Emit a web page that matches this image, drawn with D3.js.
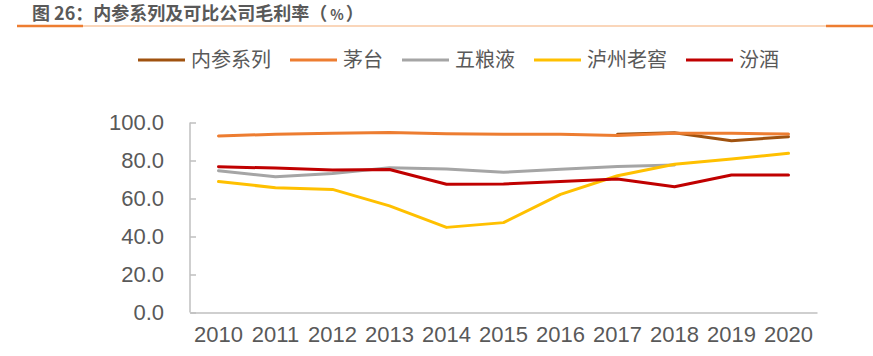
<!DOCTYPE html>
<html><head><meta charset="utf-8">
<script src="https://cdn.jsdelivr.net/npm/d3@7"></script>
<style>body{margin:0;background:#fff;}svg{display:block;}</style>
</head><body>
<svg id="c" width="873" height="356"></svg>
<script>
const years = ["2010","2011","2012","2013","2014","2015","2016","2017","2018","2019","2020"];
const neican  = [null,null,null,null,null,null,null,93.8,94.6,90.4,92.5];
const maotai  = [92.9,93.8,94.3,94.8,94.1,93.8,93.8,93.1,94.3,94.3,94.0];
const wuliangye = [74.6,71.5,73.2,76.2,75.5,73.8,75.4,76.8,77.6,null,null];
const luzhou  = [68.9,65.7,64.8,56.1,44.8,47.3,62.2,72.0,78.0,80.8,83.8];
const fenjiu  = [76.7,76.0,75.0,75.3,67.5,67.6,69.0,70.3,66.2,72.4,72.4];
const seriesNames = ["内参系列","茅台","五粮液","泸州老窖","汾酒"];
const seriesColors = ["#A0520F","#ED7D31","#A5A5A5","#FFC000","#C00000"];
const yTicks = [0,20,40,60,80,100];
const titleMain = "图 26：内参系列及可比公司毛利率（";
const titleUnit = "%";
const titleEnd = "）";

const series = [neican, maotai, wuliangye, luzhou, fenjiu];
const svg = d3.select("#c");
const textColor = "#595959";

// title
const tt = svg.append("text").attr("x",32).attr("y",20)
  .attr("font-family","'Noto Sans CJK SC'").attr("font-weight","bold")
  .attr("font-size",18).attr("fill",textColor);
tt.append("tspan").text(titleMain);
tt.append("tspan").attr("font-size",14).attr("dx",3).text(titleUnit);
tt.append("tspan").attr("dx",2).text(titleEnd);
svg.append("line").attr("x1",83).attr("x2",826).attr("y1",26).attr("y2",26)
  .attr("stroke","#F8C9A3").attr("stroke-width",1.5);
svg.append("line").attr("x1",17).attr("x2",83).attr("y1",26).attr("y2",26)
  .attr("stroke","#ED7D31").attr("stroke-width",2.5);
svg.append("line").attr("x1",826).attr("x2",873).attr("y1",26).attr("y2",26)
  .attr("stroke","#ED7D31").attr("stroke-width",2.5);

// scales
const x = d3.scaleBand().domain(years).range([190,817]);
const y = d3.scaleLinear().domain([0,100]).range([312.5,122.5]);

// y axis
const yAxis = svg.append("g").attr("transform","translate(190,0)")
  .call(d3.axisLeft(y).tickValues(yTicks).tickSize(-6).tickPadding(26).tickFormat(d3.format(".1f")));
yAxis.select(".domain").attr("stroke","#BFBFBF").attr("stroke-width",1.5).attr("d","M0,122.5V312.5");
yAxis.selectAll(".tick line").attr("stroke","#BFBFBF").attr("stroke-width",1.5);
yAxis.selectAll(".tick text").attr("font-family","'Liberation Sans',Arial").attr("font-size",22).attr("fill",textColor);

// x axis
const xAxis = svg.append("g").attr("transform","translate(0,312.5)")
  .call(d3.axisBottom(x).tickSize(0).tickPadding(14));
xAxis.select(".domain").attr("stroke","#BFBFBF").attr("stroke-width",1.5);
xAxis.selectAll(".tick text").attr("font-family","'Liberation Sans',Arial").attr("font-size",22).attr("fill",textColor);
yAxis.raise();

// lines
const line = d3.line().defined(d=>d.v!=null).x(d=>x(d.year)+x.bandwidth()/2).y(d=>y(d.v));
series.forEach((s,i)=>{
  svg.append("path").datum(years.map((yr,j)=>({year:yr,v:s[j]})))
    .attr("d",line).attr("fill","none").attr("stroke",seriesColors[i])
    .attr("stroke-width",3).attr("stroke-linejoin","round").attr("stroke-linecap","round");
});

// legend
let lx = 138;
const ly = 60;
seriesNames.forEach((n,i)=>{
  svg.append("line").attr("x1",lx).attr("x2",lx+47).attr("y1",ly).attr("y2",ly)
    .attr("stroke",seriesColors[i]).attr("stroke-width",3);
  const t = svg.append("text").attr("x",lx+53).attr("y",ly+7)
    .attr("font-family","'Noto Sans CJK SC'").attr("font-size",20).attr("fill",textColor).text(n);
  lx = lx + 53 + t.node().getComputedTextLength() + 19;
});
</script>
</body></html>
